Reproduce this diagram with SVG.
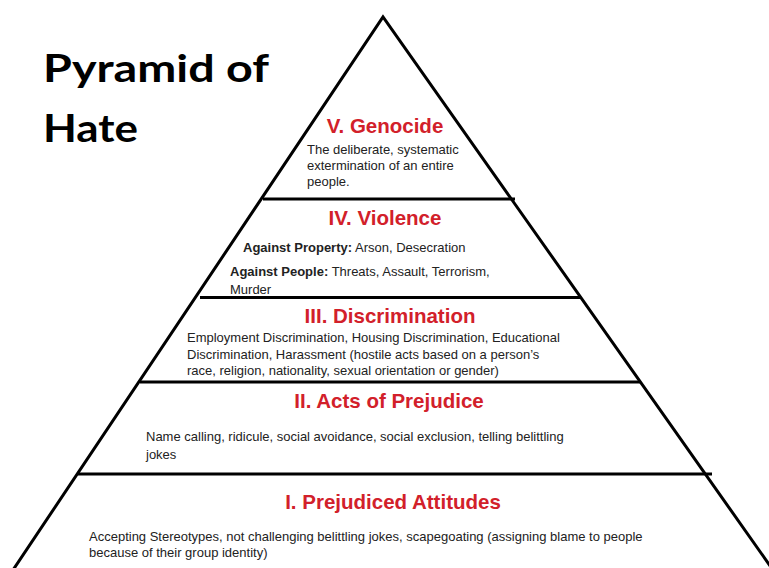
<svg xmlns="http://www.w3.org/2000/svg" width="769" height="568" viewBox="0 0 769 568">
  <style>
    .edge { fill: none; stroke: #000; stroke-width: 3; stroke-linejoin: miter; }
    .tier { stroke: #000; stroke-width: 3; }
    .head { font-family: "Liberation Sans", Arial, sans-serif; font-weight: bold; font-size: 20.5px; fill: #d2202a; text-anchor: middle; }
    .body { font-family: "Liberation Sans", Arial, sans-serif; font-size: 13px; fill: #222; }
    .b { font-weight: bold; }
    .title { font-family: Lato, "Open Sans", "Liberation Sans", sans-serif; font-weight: bold; font-size: 38px; fill: #000; }
  </style>
  <rect width="769" height="568" fill="#fff"/>

  <g id="title">
    <text class="title" x="43" y="82" textLength="226" lengthAdjust="spacingAndGlyphs">Pyramid of</text>
    <text class="title" x="43" y="142" textLength="95" lengthAdjust="spacingAndGlyphs">Hate</text>
  </g>

  <g id="pyramid">
    <path class="edge" d="M 13 570 L 383 17 L 773 570"/>
    <line class="tier" x1="263" y1="199" x2="515" y2="199"/>
    <line class="tier" x1="200" y1="297.5" x2="580" y2="297.5"/>
    <line class="tier" x1="140" y1="382" x2="640" y2="382"/>
    <line class="tier" x1="78" y1="474" x2="712" y2="474"/>
  </g>

  <g id="tier-5-genocide">
    <text class="head" x="385" y="133">V. Genocide</text>
    <text class="body" x="307" y="154">The deliberate, systematic</text>
    <text class="body" x="307" y="170">extermination of an entire</text>
    <text class="body" x="307" y="186">people.</text>
  </g>

  <g id="tier-4-violence">
    <text class="head" x="385" y="225">IV. Violence</text>
    <text class="body" x="243" y="252"><tspan class="b">Against Property:</tspan> Arson, Desecration</text>
    <text class="body" x="230" y="276"><tspan class="b">Against People:</tspan> Threats, Assault, Terrorism,</text>
    <text class="body" x="230" y="294">Murder</text>
  </g>

  <g id="tier-3-discrimination">
    <text class="head" x="390" y="323">III. Discrimination</text>
    <text class="body" x="187" y="342">Employment Discrimination, Housing Discrimination, Educational</text>
    <text class="body" x="187" y="358.5">Discrimination, Harassment (hostile acts based on a person’s</text>
    <text class="body" x="187" y="375">race, religion, nationality, sexual orientation or gender)</text>
  </g>

  <g id="tier-2-acts">
    <text class="head" x="389" y="408">II. Acts of Prejudice</text>
    <text class="body" x="146" y="441">Name calling, ridicule, social avoidance, social exclusion, telling belittling</text>
    <text class="body" x="146" y="459">jokes</text>
  </g>

  <g id="tier-1-attitudes">
    <text class="head" x="393" y="509">I. Prejudiced Attitudes</text>
    <text class="body" x="89" y="541">Accepting Stereotypes, not challenging belittling jokes, scapegoating (assigning blame to people</text>
    <text class="body" x="89" y="557">because of their group identity)</text>
  </g>
</svg>
